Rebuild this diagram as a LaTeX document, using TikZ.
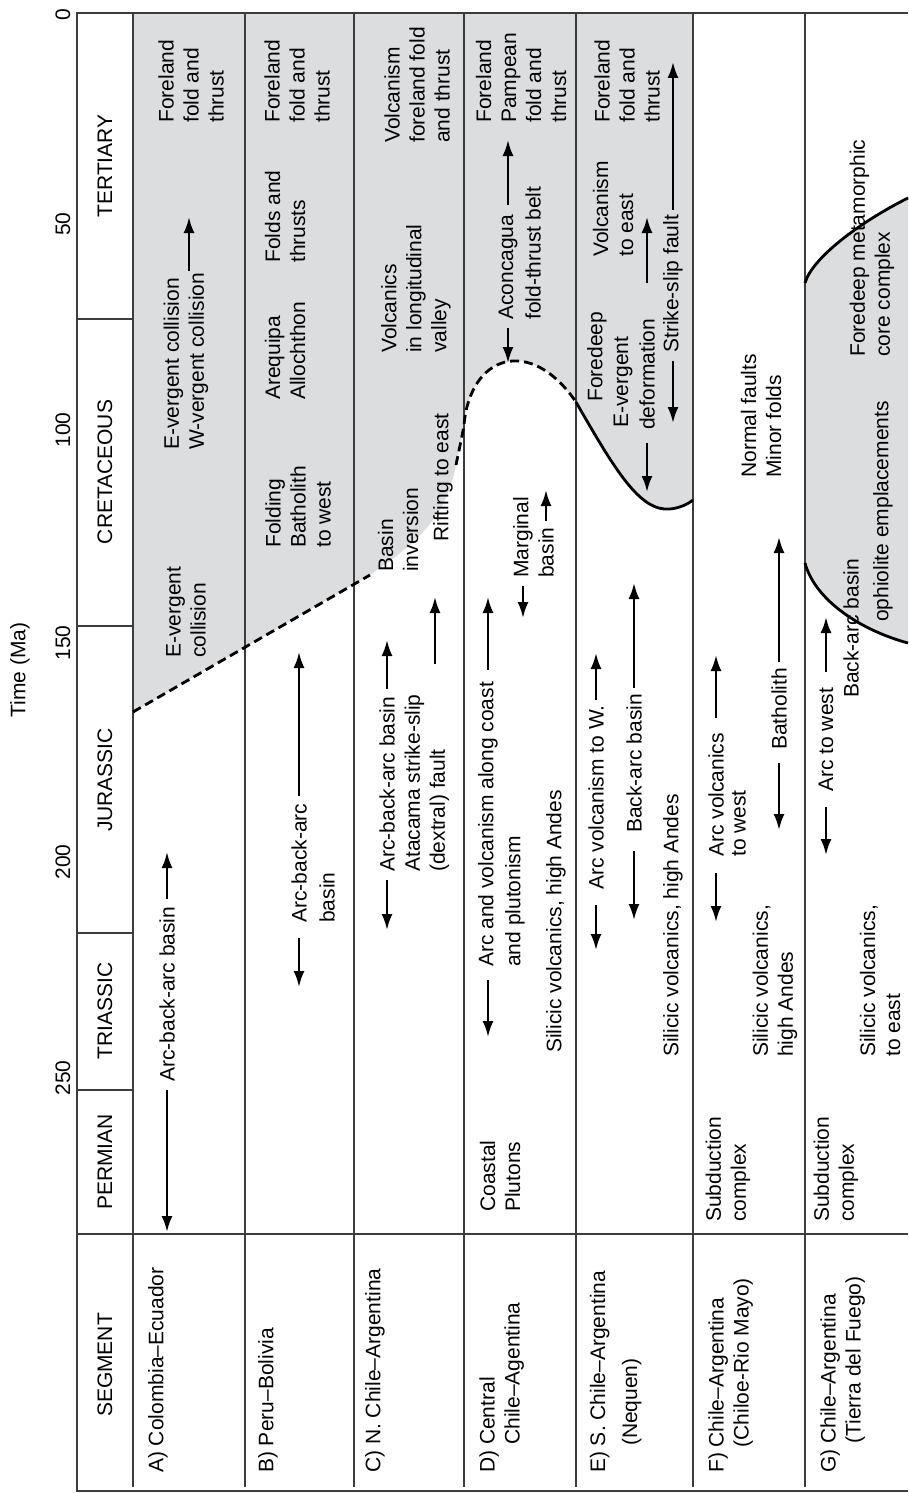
\documentclass[tikz,border=0pt]{standalone}
\usepackage{fontspec}
\setmainfont{Liberation Sans}
\usetikzlibrary{arrows.meta}
\definecolor{zonegray}{RGB}{220,221,223}
\definecolor{rulegray}{RGB}{60,60,60}

\begin{document}
\begin{tikzpicture}
[
    x=1pt, y=-1pt,
    base/.style={rotate=90, inner sep=0pt, anchor=west, font=\fontsize{21}{25}\selectfont},
    txt/.style={base, align=left},
    ctr/.style={base, anchor=center},
    seg/.style={base},
    arr/.style={line width=2.4pt, -{Latex[length=16pt, width=11pt]}, shorten <=8pt},
    rules/.style={draw=rulegray, line width=1.6pt},
    edge/.style={line width=2.8pt},
    broken/.style={edge, dash pattern=on 9pt off 5pt},
]
\useasboundingbox (0,0) rectangle (908,1493);

% shaded zones
\fill[zonegray] (133,13) -- (693,13) -- (693,500)
    .. controls (688,504) and (680,508) .. (670,509)
    .. controls (640,512) and (615,470) .. (576,402)
    .. controls (530,335) and (470,355) .. (464,425)
    .. controls (462,437) and (459,450) .. (456,465)
    .. controls (445,525) and (405,550) .. (370,575)
    -- (133,712) -- cycle;
\fill[zonegray] (805,283) .. controls (812,258) and (860,222) .. (908,198)
    -- (908,643) .. controls (860,630) and (815,600) .. (805,563) -- cycle;

% table
\draw[rules] (908,13) -- (77,13) -- (77,1491) -- (908,1491);
\foreach \x in {133,245,354,464,576,693,805}
    \draw[rules] (\x,13) -- (\x,1487);
\draw[rules] (77,1234) -- (908,1234);
\foreach \y in {319,626,933,1090}
    \draw[rules] (77,\y) -- (133,\y);

% boundaries
\draw[broken] (133,712) -- (370,575);
\draw[broken] (456,465) .. controls (459,450) and (462,437) .. (464,425)
    .. controls (470,355) and (530,335) .. (576,402);
\draw[edge] (576,402) .. controls (615,470) and (640,512) .. (670,509)
    .. controls (680,508) and (688,504) .. (693,500);
\draw[edge] (805,283) .. controls (812,258) and (860,222) .. (908,198);
\draw[edge] (805,563) .. controls (815,600) and (860,630) .. (908,643);

% header
\node[ctr] (timeLbl) at (20,670) {Time (Ma)};
\foreach \t/\y in {0/15,50/224,100/430,150/643,200/862,250/1078}
    \node[ctr] (tick\t) at (63,\y) {\t};
\foreach \p/\y in {TERTIARY/166,CRETACEOUS/472,JURASSIC/780,TRIASSIC/1011,PERMIAN/1162,SEGMENT/1365}
    \node[ctr] (per\p) at (105,\y) {\p};

% A
\node[txt] (aFore) at (191,123) {Foreland\\fold and\\thrust};
\node[txt] (aColl) at (186,450) {E-vergent collision\\W-vergent collision};
\coordinate (aCollTip) at (189,217);
\draw[arr, shorten <=2pt] (aColl.east -| aCollTip) -- (aCollTip);
\node[txt] (aEverg) at (186,658) {E-vergent\\collision};
\node[txt] (aBasin) at (167,1082) {Arc-back-arc basin};
\coordinate (aBasinUp) at (167,852);
\coordinate (aBasinDn) at (167,1232);
\draw[arr] (aBasin.east) -- (aBasinUp);
\draw[arr] (aBasin.west) -- (aBasinDn);
\node[seg] (aSeg) at (158,1473) {A)\ Colombia–Ecuador};

% B
\node[txt] (bFore) at (297,123) {Foreland\\fold and\\thrust};
\node[txt] (bFolds) at (285,263) {Folds and\\thrusts};
\node[txt] (bAreq) at (285,400) {Arequipa\\Allochthon};
\node[txt] (bBath) at (298,548) {Folding\\Batholith\\to west};
\node[txt] (bBasin) at (299,923) {Arc-back-arc};
\node[txt] (bBasin2) at (327,923) {basin};
\coordinate (bBasinUp) at (299,652);
\coordinate (bBasinDn) at (299,987);
\draw[arr] (bBasin.east) -- (bBasinUp);
\draw[arr, shorten <=15pt] (bBasin.west) -- (bBasinDn);
\node[seg] (bSeg) at (268,1473) {B)\ Peru–Bolivia};

% C
\node[txt] (cVolc) at (417,143) {Volcanism\\foreland fold\\and thrust};
\node[txt] (cValley) at (416,353) {Volcanics\\in longitudinal\\valley};
\node[txt] (cInv) at (398,572) {Basin\\inversion};
\node[txt] (cRift) at (443,542) {Rifting to east};
\node[txt] (cBasin) at (387,872) {Arc-back-arc basin};
\coordinate (cBasinUp) at (387,640);
\coordinate (cBasinDn) at (387,930);
\draw[arr] (cBasin.east) -- (cBasinUp);
\draw[arr] (cBasin.west) -- (cBasinDn);
\node[txt] (cFault) at (427,872) {Atacama strike-slip\\(dextral) fault};
\coordinate (cRiftTip) at (435,597);
\draw[arr, shorten <=30pt] (cFault.east -| cRiftTip) -- (cRiftTip);
\node[seg] (cSeg) at (375,1473) {C)\ N. Chile–Argentina};

% D
\node[txt] (dFore) at (521,123) {Foreland\\Pampean\\fold and\\thrust};
\node[txt] (dAcon) at (508,320) {Aconcagua};
\node[txt] (dBelt) at (533,320) {fold-thrust belt};
\coordinate (dAconUp) at (508,140);
\coordinate (dAconDn) at (508,363);
\draw[arr, shorten <=10pt] (dAcon.east) -- (dAconUp);
\draw[arr] (dAcon.west) -- (dAconDn);
\node[txt] (dMarg) at (523,578) {Marginal};
\node[txt] (dMarg2) at (546,578) {basin};
\coordinate (dMargDn) at (523,618);
\coordinate (dMargUp) at (546,490);
\draw[arr] (dMarg.west) -- (dMargDn);
\draw[arr, shorten <=6pt] (dMarg2.east) -- (dMargUp);
\node[txt] (dArc) at (488,967) {Arc and volcanism along coast};
\node[txt] (dPlut) at (515,967) {and plutonism};
\coordinate (dArcUp) at (488,597);
\coordinate (dArcDn) at (488,1037);
\draw[arr, shorten <=12pt] (dArc.east) -- (dArcUp);
\draw[arr, shorten <=13pt] (dArc.west) -- (dArcDn);
\node[txt] (dSil) at (556,1053) {Silicic volcanics, high Andes};
\node[txt] (dCoast) at (500,1212) {Coastal\\Plutons};
\node[seg] (dSeg) at (502,1473) {\begin{tabular}{@{}l@{\ }l@{}}D) & Central\\ & Chile–Agentina\end{tabular}};

% E
\node[txt] (eFore) at (627,123) {Foreland\\fold and\\thrust};
\node[txt] (eVolc) at (613,257) {Volcanism\\to east};
\node[txt] (eDeep) at (597,402) {Foredeep};
\node[txt] (eVerg) at (623,428) {E-vergent};
\node[txt] (eDef) at (647,430) {deformation};
\coordinate (eDefUp) at (647,217);
\coordinate (eDefDn) at (647,492);
\draw[arr, shorten <=36pt] (eDef.east) -- (eDefUp);
\draw[arr, shorten <=13pt] (eDef.west) -- (eDefDn);
\node[txt] (eFault) at (673,353) {Strike-slip fault};
\coordinate (eFaultUp) at (673,62);
\coordinate (eFaultDn) at (673,423);
\draw[arr, shorten <=5pt] (eFault.east) -- (eFaultUp);
\draw[arr] (eFault.west) -- (eFaultDn);
\node[txt] (eArcW) at (596,890) {Arc volcanism to W.};
\coordinate (eArcWUp) at (596,653);
\coordinate (eArcWDn) at (596,950);
\draw[arr, shorten <=5pt] (eArcW.east) -- (eArcWUp);
\draw[arr, shorten <=15pt] (eArcW.west) -- (eArcWDn);
\node[txt] (eBack) at (634,833) {Back-arc basin};
\coordinate (eBackUp) at (634,583);
\coordinate (eBackDn) at (634,920);
\draw[arr, shorten <=6pt] (eBack.east) -- (eBackUp);
\draw[arr, shorten <=18pt] (eBack.west) -- (eBackDn);
\node[txt] (eSil) at (673,1057) {Silicic volcanics, high Andes};
\node[seg] (eSeg) at (616,1473) {\begin{tabular}{@{}l@{\ }l@{}}E) & S. Chile–Argentina\\[7pt] & (Nequen)\end{tabular}};

% F
\node[txt] (fNorm) at (761,478) {Normal faults\\Minor folds};
\node[txt] (fBath) at (779,750) {Batholith};
\coordinate (fBathUp) at (779,537);
\coordinate (fBathDn) at (779,830);
\draw[arr, shorten <=6pt] (fBath.east) -- (fBathUp);
\draw[arr, shorten <=13pt] (fBath.west) -- (fBathDn);
\node[txt] (fArc) at (716,857) {Arc volcanics};
\node[txt] (fWest) at (739,857) {to west};
\coordinate (fArcUp) at (716,655);
\coordinate (fArcDn) at (716,922);
\draw[arr, shorten <=15pt] (fArc.east) -- (fArcUp);
\draw[arr, shorten <=16pt] (fArc.west) -- (fArcDn);
\node[txt] (fSil) at (775,1057) {Silicic volcanics,\\high Andes};
\node[txt] (fSub) at (728,1222) {Subduction\\complex};
\node[seg] (fSeg) at (731,1473) {\begin{tabular}{@{}l@{\ }l@{}}F) & Chile–Argentina\\ & (Chiloe-Rio Mayo)\end{tabular}};

% G
\node[txt] (gCore) at (872,357) {Foredeep metamorphic\\core complex};
\node[txt] (gOph) at (883,622) {ophiolite emplacements};
\node[txt] (gBack) at (851,698) {Back-arc basin};
\node[txt] (gArc) at (826,792) {Arc to west};
\coordinate (gArcUp) at (826,617);
\coordinate (gArcDn) at (826,855);
\draw[arr, shorten <=16pt] (gArc.east) -- (gArcUp);
\draw[arr, shorten <=15pt] (gArc.west) -- (gArcDn);
\node[txt] (gSil) at (880,1057) {Silicic volcanics,\\to east};
\node[txt] (gSub) at (836,1222) {Subduction\\complex};
\node[seg] (gSeg) at (843,1473) {\begin{tabular}{@{}l@{\ }l@{}}G) & Chile–Argentina\\ & (Tierra del Fuego)\end{tabular}};
\end{tikzpicture}
\end{document}
